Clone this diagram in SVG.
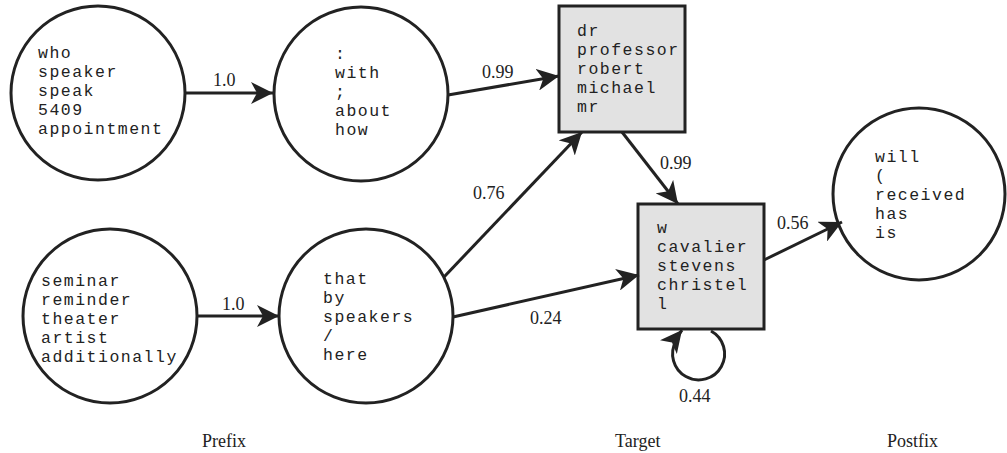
<svg xmlns="http://www.w3.org/2000/svg" width="1007" height="453" viewBox="0 0 1007 453">
<style>
.node circle{fill:#fff;stroke:#222;stroke-width:3}
.node rect{fill:#e2e2e2;stroke:#222;stroke-width:3}
.node text{font-family:"Liberation Mono",monospace;font-size:16.5px;letter-spacing:1.5px;fill:#222}
.edges line,.edges path{stroke:#222;stroke-width:3;fill:none;marker-end:url(#ah)}
.lbl{font-family:"Liberation Serif",serif;font-size:18px;fill:#222}
</style>
<defs>
<marker id="ah" markerUnits="userSpaceOnUse" viewBox="0 0 22 22" markerWidth="22" markerHeight="22" refX="22" refY="11" orient="auto">
<path d="M0,0 L22,11 L0,22 L6,11 z" fill="#222"/>
</marker>
</defs>
<g class="node" id="n_who">
<circle cx="98" cy="93" r="87"/>
<text x="38" y="58">who</text><text x="38" y="77">speaker</text><text x="38" y="96">speak</text><text x="38" y="115">5409</text><text x="38" y="134">appointment</text>
</g>
<g class="node" id="n_with">
<circle cx="361" cy="94" r="87"/>
<text x="335" y="59">:</text><text x="335" y="78">with</text><text x="335" y="97">;</text><text x="335" y="116">about</text><text x="335" y="135">how</text>
</g>
<g class="node" id="n_dr">
<rect x="559" y="6" width="126" height="126"/>
<text x="577" y="36">dr</text><text x="577" y="55">professor</text><text x="577" y="74">robert</text><text x="577" y="93">michael</text><text x="577" y="112">mr</text>
</g>
<g class="node" id="n_seminar">
<circle cx="110" cy="316" r="87"/>
<text x="41" y="286">seminar</text><text x="41" y="305">reminder</text><text x="41" y="324">theater</text><text x="41" y="343">artist</text><text x="41" y="362">additionally</text>
</g>
<g class="node" id="n_that">
<circle cx="366" cy="316" r="87"/>
<text x="323" y="284">that</text><text x="323" y="303">by</text><text x="323" y="322">speakers</text><text x="323" y="341">/</text><text x="323" y="360">here</text>
</g>
<g class="node" id="n_w">
<rect x="638" y="204" width="126" height="125"/>
<text x="657" y="233">w</text><text x="657" y="252">cavalier</text><text x="657" y="271">stevens</text><text x="657" y="290">christel</text><text x="657" y="309">l</text>
</g>
<g class="node" id="n_will">
<circle cx="919" cy="194" r="86"/>
<text x="875" y="162">will</text><text x="875" y="181">(</text><text x="875" y="200">received</text><text x="875" y="219">has</text><text x="875" y="238">is</text>
</g>
<g class="edges" id="connectors">
<line x1="185" y1="93" x2="273" y2="93"/>
<line x1="197" y1="316" x2="279" y2="316"/>
<line x1="448" y1="95" x2="559" y2="76"/>
<line x1="444" y1="277" x2="582" y2="132"/>
<line x1="453" y1="317" x2="639" y2="275"/>
<line x1="622" y1="132" x2="678" y2="204"/>
<line x1="764" y1="260" x2="842" y2="222"/>
<path d="M711,331 A26,26 0 1 1 676,341 Q678,335 682,330"/>
<text class="lbl" x="213" y="86">1.0</text>
<text class="lbl" x="222" y="310">1.0</text>
<text class="lbl" x="482" y="78">0.99</text>
<text class="lbl" x="473" y="199">0.76</text>
<text class="lbl" x="530" y="324">0.24</text>
<text class="lbl" x="660" y="169">0.99</text>
<text class="lbl" x="777" y="229">0.56</text>
<text class="lbl" x="679" y="402">0.44</text>
</g>
<g id="captions">
<text class="lbl" x="202" y="447">Prefix</text>
<text class="lbl" x="615" y="447">Target</text>
<text class="lbl" x="887" y="447">Postfix</text>
</g>
</svg>
